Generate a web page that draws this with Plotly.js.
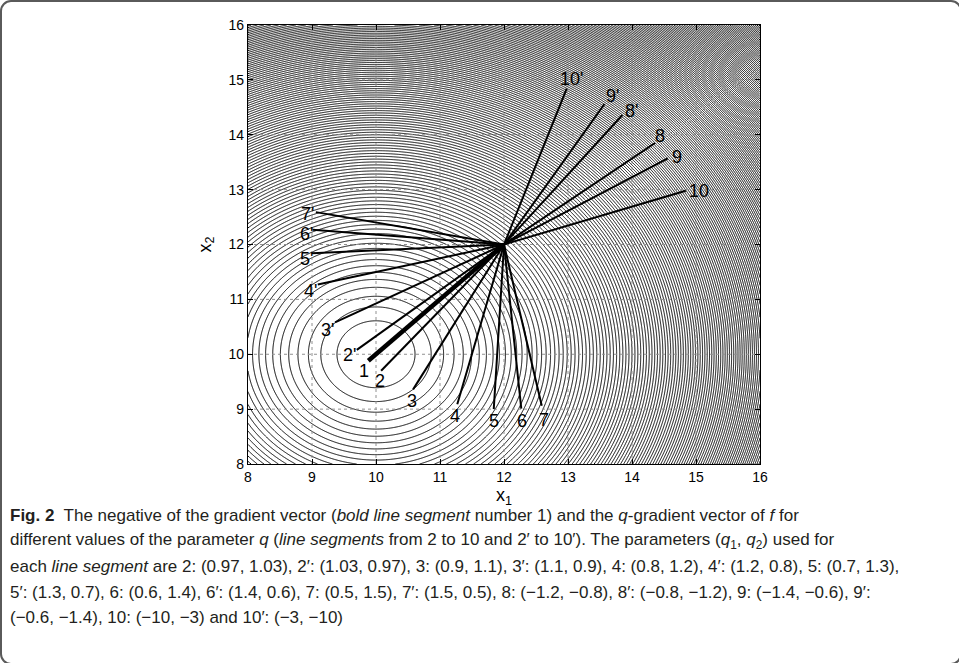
<!DOCTYPE html>
<html>
<head>
<meta charset="utf-8">
<script src="https://cdn.plot.ly/plotly-3.0.1.min.js"></script>
<style>
  html, body { margin: 0; padding: 0; overflow: hidden; background: #fff; }
  #frame { position: absolute; left: 0; top: 0; width: 962px; height: 665px; box-sizing: border-box;
           border: 2px solid #5a5a5a; border-radius: 11px; }
  #chart { position: absolute; left: 0; top: 0; width: 959px; height: 663px; }
</style>
</head>
<body>
<div id="chart"></div>
<div id="frame"></div>
<script>
// ---- data ----
// contour function f(x) = (x1 - c1)^2 + (x2 - c2)^2, minimum at (10, 10)
const fCenter = [10, 10];
const contourStart = 0.372;
const contourStep = 0.372;
const contourEnd = 73;
const axisRange = [8, 16];
const tickVals = [8, 9, 10, 11, 12, 13, 14, 15, 16];

// all segments start at the evaluation point (12, 12)
const originX = 12;
const originY = 12;
const segLabels = ["1", "2", "2'", "3", "3'", "4", "4'", "5", "5'", "6", "6'", "7", "7'", "8", "8'", "9", "9'", "10", "10'"];
const segEndX  = [9.88, 10.08, 9.70, 10.58, 9.36, 11.27, 9.09, 11.84, 9.00, 12.27, 9.01, 12.59, 9.06, 14.36, 13.85, 14.56, 13.57, 14.84, 12.98];
const segEndY  = [9.88, 9.70, 10.08, 9.36, 10.58, 9.09, 11.27, 9.00, 11.84, 9.01, 12.27, 9.06, 12.59, 13.85, 14.36, 13.57, 14.56, 12.98, 14.84];

// ---- styles ----
const labelShiftX = [-4, -1, -7, -1, -8, -2, -7, 0, -6, 1, -6, 2, -8, 5, 9, 9, 8, 13, 5];
const labelShiftY = [-10, -10, -5, -12, -8, -12, -6, -12, -6, -12, -4, -14, -2, 7, 4, 1, 8, 0, 10];

// contour grid
const N = 321;
const gx = [], gy = [];
for (let i = 0; i < N; i++) {
  gx.push(axisRange[0] + (axisRange[1] - axisRange[0]) * i / (N - 1));
  gy.push(axisRange[0] + (axisRange[1] - axisRange[0]) * i / (N - 1));
}
const gz = gy.map(y => gx.map(x => (x - fCenter[0]) ** 2 + (y - fCenter[1]) ** 2));

const traces = [];
traces.push({
  type: 'contour', x: gx, y: gy, z: gz,
  autocontour: false,
  contours: { start: contourStart, end: contourEnd, size: contourStep, coloring: 'none', showlabels: false },
  line: { color: '#000', width: 1, smoothing: 0 },
  showscale: false, hoverinfo: 'skip'
});

// dotted grid lines built from tick values
tickVals.slice(1, -1).forEach(v => {
  traces.push({ type: 'scatter', mode: 'lines', x: [v, v], y: axisRange, line: { color: '#909090', width: 1, dash: 'dot' }, hoverinfo: 'skip', showlegend: false });
  traces.push({ type: 'scatter', mode: 'lines', x: axisRange, y: [v, v], line: { color: '#909090', width: 1, dash: 'dot' }, hoverinfo: 'skip', showlegend: false });
});

// segments
segLabels.forEach((lab, i) => {
  traces.push({
    type: 'scatter', mode: 'lines',
    x: [originX, segEndX[i]], y: [originY, segEndY[i]],
    line: { color: '#000', width: lab === '1' ? 4.5 : 2 },
    hoverinfo: 'skip', showlegend: false
  });
});

const annotations = segLabels.map((lab, i) => ({
  x: segEndX[i], y: segEndY[i], xref: 'x', yref: 'y',
  text: lab, showarrow: false,
  xshift: labelShiftX[i], yshift: labelShiftY[i],
  font: { family: 'Liberation Sans, Arial, sans-serif', size: 18, color: '#000' }
}));

// caption
const captionLines = [
  "<b>Fig. 2</b>  The negative of the gradient vector (<i>bold line segment</i> number 1) and the <i>q</i>-gradient vector of <i>f</i> for",
  "different values of the parameter <i>q</i> (<i>line segments</i> from 2 to 10 and 2\u2032 to 10\u2032). The parameters (<i>q</i><sub>1</sub>, <i>q</i><sub>2</sub>) used for",
  "each <i>line segment</i> are 2: (0.97, 1.03), 2\u2032: (1.03, 0.97), 3: (0.9, 1.1), 3\u2032: (1.1, 0.9), 4: (0.8, 1.2), 4\u2032: (1.2, 0.8), 5: (0.7, 1.3),",
  "5\u2032: (1.3, 0.7), 6: (0.6, 1.4), 6\u2032: (1.4, 0.6), 7: (0.5, 1.5), 7\u2032: (1.5, 0.5), 8: (\u22121.2, \u22120.8), 8\u2032: (\u22120.8, \u22121.2), 9: (\u22121.4, \u22120.6), 9\u2032:",
  "(\u22120.6, \u22121.4), 10: (\u221210, \u22123) and 10\u2032: (\u22123, \u221210)"
];
const plotL = 248, plotR = 760, plotT = 25, plotB = 464;
const captionY = [515, 541, 566, 592, 617];
captionLines.forEach((t, i) => {
  annotations.push({
    xref: 'paper', yref: 'paper',
    x: (8 - plotL) / (plotR - plotL), y: (plotB - captionY[i]) / (plotB - plotT),
    xanchor: 'left', yanchor: 'middle', showarrow: false, align: 'left',
    text: t,
    font: { family: 'Liberation Sans, Arial, sans-serif', size: 17, color: '#231f20' }
  });
});

const axisCommon = {
  range: axisRange, tickvals: tickVals, ticktext: tickVals.map(String),
  showgrid: false, zeroline: false,
  showline: true, linecolor: '#000', linewidth: 1.2, mirror: 'ticks',
  ticks: 'inside', ticklen: 5, tickcolor: '#000', tickwidth: 1,
  tickfont: { family: 'Liberation Sans, Arial, sans-serif', size: 14, color: '#000' },
  layer: 'above traces'
};

const layout = {
  width: 959, height: 663,
  margin: { l: plotL, r: 959 - plotR, t: plotT, b: 663 - plotB, pad: 0 },
  paper_bgcolor: '#fff', plot_bgcolor: '#fff',
  showlegend: false,
  xaxis: Object.assign({}, axisCommon, {
    title: { text: 'x<sub>1</sub>', font: { family: 'Liberation Sans, Arial, sans-serif', size: 18, color: '#000' }, standoff: 0 }
  }),
  yaxis: Object.assign({}, axisCommon, {
    title: { text: 'x<sub>2</sub>', font: { family: 'Liberation Sans, Arial, sans-serif', size: 18, color: '#000' }, standoff: 12 }
  }),
  annotations: annotations
};

Plotly.newPlot('chart', traces, layout, { displayModeBar: false, staticPlot: true });
</script>
</body>
</html>
